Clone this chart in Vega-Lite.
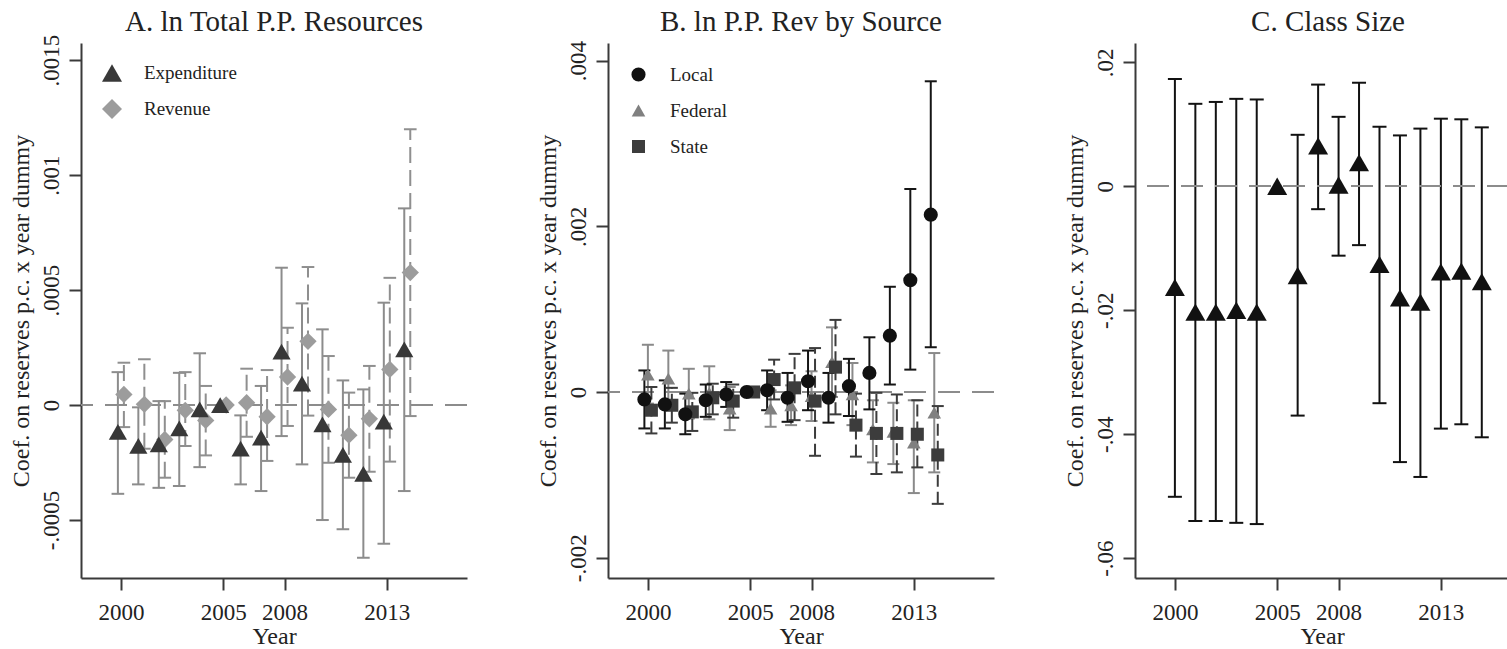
{
  "$schema": "https://vega.github.io/schema/vega-lite/v6.json",
  "background": "white",
  "autosize": {"type": "pad"},
  "padding": {"left": 9, "top": 7, "right": 0, "bottom": 0},
  "bounds": "flush",
  "spacing": 141,
  "resolve": {
    "scale": {"color": "independent", "shape": "independent", "size": "independent", "x": "independent", "y": "independent"},
    "legend": {"color": "independent", "shape": "independent", "size": "independent"}
  },
  "datasets": {
    "a": [
      {"year": 2000, "s": "Expenditure", "b": -0.000117, "lo": -0.000386, "hi": 0.000143},
      {"year": 2001, "s": "Expenditure", "b": -0.000178, "lo": -0.000345, "hi": -0.00001},
      {"year": 2002, "s": "Expenditure", "b": -0.000171, "lo": -0.00036, "hi": 0.000017},
      {"year": 2003, "s": "Expenditure", "b": -0.000101, "lo": -0.000352, "hi": 0.00014},
      {"year": 2004, "s": "Expenditure", "b": -0.000019, "lo": -0.00027, "hi": 0.000225},
      {"year": 2005, "s": "Expenditure", "b": 0, "lo": null, "hi": null},
      {"year": 2006, "s": "Expenditure", "b": -0.00019, "lo": -0.000345, "hi": -0.000045},
      {"year": 2007, "s": "Expenditure", "b": -0.000142, "lo": -0.000374, "hi": 0.000083},
      {"year": 2008, "s": "Expenditure", "b": 0.000232, "lo": -0.000135, "hi": 0.000597},
      {"year": 2009, "s": "Expenditure", "b": 0.000093, "lo": -0.000258, "hi": 0.000442},
      {"year": 2010, "s": "Expenditure", "b": -0.000084, "lo": -0.0005, "hi": 0.000329},
      {"year": 2011, "s": "Expenditure", "b": -0.000217, "lo": -0.00054, "hi": 0.000107},
      {"year": 2012, "s": "Expenditure", "b": -0.000299, "lo": -0.000664, "hi": 0.000068},
      {"year": 2013, "s": "Expenditure", "b": -0.000072, "lo": -0.000603, "hi": 0.000445},
      {"year": 2014, "s": "Expenditure", "b": 0.000242, "lo": -0.000374, "hi": 0.000855},
      {"year": 2000, "s": "Revenue", "b": 0.000046, "lo": -0.000096, "hi": 0.000184},
      {"year": 2001, "s": "Revenue", "b": 0.000003, "lo": -0.00019, "hi": 0.000199},
      {"year": 2002, "s": "Revenue", "b": -0.00015, "lo": -0.000316, "hi": 0.000017},
      {"year": 2003, "s": "Revenue", "b": -0.000023, "lo": -0.000178, "hi": 0.000143},
      {"year": 2004, "s": "Revenue", "b": -0.000067, "lo": -0.000219, "hi": 0.000083},
      {"year": 2005, "s": "Revenue", "b": 0, "lo": null, "hi": null},
      {"year": 2006, "s": "Revenue", "b": 0.00001, "lo": -0.000138, "hi": 0.000158},
      {"year": 2007, "s": "Revenue", "b": -0.000051, "lo": -0.000243, "hi": 0.000152},
      {"year": 2008, "s": "Revenue", "b": 0.000122, "lo": -0.000091, "hi": 0.000336},
      {"year": 2009, "s": "Revenue", "b": 0.000277, "lo": -0.000046, "hi": 0.0006},
      {"year": 2010, "s": "Revenue", "b": -0.000019, "lo": -0.000251, "hi": 0.000213},
      {"year": 2011, "s": "Revenue", "b": -0.000131, "lo": -0.000316, "hi": 0.000054},
      {"year": 2012, "s": "Revenue", "b": -0.00006, "lo": -0.00029, "hi": 0.00017},
      {"year": 2013, "s": "Revenue", "b": 0.000155, "lo": -0.000246, "hi": 0.000553},
      {"year": 2014, "s": "Revenue", "b": 0.000576, "lo": -0.000048, "hi": 0.001199}
    ],
    "b": [
      {"year": 2000, "s": "Local", "b": -0.00009, "lo": -0.00044, "hi": 0.00026},
      {"year": 2001, "s": "Local", "b": -0.00015, "lo": -0.00044, "hi": 0.00014},
      {"year": 2002, "s": "Local", "b": -0.00027, "lo": -0.00051, "hi": -0.00002},
      {"year": 2003, "s": "Local", "b": -0.0001, "lo": -0.0003, "hi": 0.00009},
      {"year": 2004, "s": "Local", "b": -0.00003, "lo": -0.00018, "hi": 0.00012},
      {"year": 2005, "s": "Local", "b": 0, "lo": null, "hi": null},
      {"year": 2006, "s": "Local", "b": 0.00002, "lo": -0.00022, "hi": 0.00026},
      {"year": 2007, "s": "Local", "b": -0.00007, "lo": -0.00036, "hi": 0.00023},
      {"year": 2008, "s": "Local", "b": 0.00013, "lo": -0.00022, "hi": 0.0005},
      {"year": 2009, "s": "Local", "b": -0.00007, "lo": -0.00037, "hi": 0.00023},
      {"year": 2010, "s": "Local", "b": 0.00007, "lo": -0.00029, "hi": 0.0004},
      {"year": 2011, "s": "Local", "b": 0.00023, "lo": -0.00021, "hi": 0.00066},
      {"year": 2012, "s": "Local", "b": 0.00068, "lo": 0.00009, "hi": 0.00127},
      {"year": 2013, "s": "Local", "b": 0.00135, "lo": 0.00027, "hi": 0.00245},
      {"year": 2014, "s": "Local", "b": 0.00214, "lo": 0.00054, "hi": 0.00375},
      {"year": 2000, "s": "Federal", "b": 0.00021, "lo": -0.00014, "hi": 0.00057},
      {"year": 2001, "s": "Federal", "b": 0.00016, "lo": -0.00017, "hi": 0.0005},
      {"year": 2002, "s": "Federal", "b": -0.00002, "lo": -0.00032, "hi": 0.00028},
      {"year": 2003, "s": "Federal", "b": -0.00001, "lo": -0.00033, "hi": 0.00031},
      {"year": 2004, "s": "Federal", "b": -0.0002, "lo": -0.00046, "hi": 0.00006},
      {"year": 2005, "s": "Federal", "b": 0, "lo": null, "hi": null},
      {"year": 2006, "s": "Federal", "b": -0.0002, "lo": -0.00042, "hi": 0.00002},
      {"year": 2007, "s": "Federal", "b": -0.00016, "lo": -0.0004, "hi": 0.00008},
      {"year": 2008, "s": "Federal", "b": -0.00005, "lo": -0.00035, "hi": 0.00025},
      {"year": 2009, "s": "Federal", "b": 0.00036, "lo": -0.00006, "hi": 0.00078},
      {"year": 2010, "s": "Federal", "b": -0.00003, "lo": -0.0004, "hi": 0.00035},
      {"year": 2011, "s": "Federal", "b": -0.00045, "lo": -0.00085, "hi": -0.0001},
      {"year": 2012, "s": "Federal", "b": -0.00048, "lo": -0.00087, "hi": -0.00013},
      {"year": 2013, "s": "Federal", "b": -0.00061, "lo": -0.00122, "hi": -0.0001},
      {"year": 2014, "s": "Federal", "b": -0.00025, "lo": -0.00097, "hi": 0.00047},
      {"year": 2000, "s": "State", "b": -0.00022, "lo": -0.0005, "hi": 0.00006},
      {"year": 2001, "s": "State", "b": -0.00016, "lo": -0.00037, "hi": 0.00005},
      {"year": 2002, "s": "State", "b": -0.00024, "lo": -0.00047, "hi": -0.00001},
      {"year": 2003, "s": "State", "b": -0.00007, "lo": -0.00027, "hi": 0.0001},
      {"year": 2004, "s": "State", "b": -0.00011, "lo": -0.00031, "hi": 0.00009},
      {"year": 2005, "s": "State", "b": 0, "lo": null, "hi": null},
      {"year": 2006, "s": "State", "b": 0.00015, "lo": -0.00009, "hi": 0.00039},
      {"year": 2007, "s": "State", "b": 0.00005, "lo": -0.00034, "hi": 0.00046},
      {"year": 2008, "s": "State", "b": -0.00011, "lo": -0.00077, "hi": 0.00053},
      {"year": 2009, "s": "State", "b": 0.0003, "lo": -0.00027, "hi": 0.00087},
      {"year": 2010, "s": "State", "b": -0.0004, "lo": -0.00078, "hi": -0.00002},
      {"year": 2011, "s": "State", "b": -0.0005, "lo": -0.00099, "hi": -0.00001},
      {"year": 2012, "s": "State", "b": -0.0005, "lo": -0.00097, "hi": -0.00003},
      {"year": 2013, "s": "State", "b": -0.00051, "lo": -0.00091, "hi": -0.0001},
      {"year": 2014, "s": "State", "b": -0.00076, "lo": -0.00135, "hi": -0.00017}
    ],
    "c": [
      {"year": 2000, "b": -0.0163, "lo": -0.0501, "hi": 0.0173},
      {"year": 2001, "b": -0.0203, "lo": -0.054, "hi": 0.0133},
      {"year": 2002, "b": -0.0203, "lo": -0.054, "hi": 0.0136},
      {"year": 2003, "b": -0.02, "lo": -0.0543, "hi": 0.0141},
      {"year": 2004, "b": -0.0203, "lo": -0.0545, "hi": 0.014},
      {"year": 2005, "b": 0, "lo": null, "hi": null},
      {"year": 2006, "b": -0.0144, "lo": -0.037, "hi": 0.0083},
      {"year": 2007, "b": 0.0065, "lo": -0.0037, "hi": 0.0164},
      {"year": 2008, "b": 0.0002, "lo": -0.0112, "hi": 0.0112},
      {"year": 2009, "b": 0.0038, "lo": -0.0095, "hi": 0.0167},
      {"year": 2010, "b": -0.0126, "lo": -0.035, "hi": 0.0096},
      {"year": 2011, "b": -0.018, "lo": -0.0445, "hi": 0.0082},
      {"year": 2012, "b": -0.0187, "lo": -0.0469, "hi": 0.0093},
      {"year": 2013, "b": -0.0138, "lo": -0.0391, "hi": 0.0109},
      {"year": 2014, "b": -0.0137, "lo": -0.0384, "hi": 0.0108},
      {"year": 2015, "b": -0.0154, "lo": -0.0405, "hi": 0.0095}
    ]
  },
  "hconcat": [
    {
      "width": 386,
      "height": 535,
      "title": {"text": "A. ln Total P.P. Resources", "dy": 9},
      "data": {"name": "a"},
      "layer": [
        {
          "transform": [{"filter": "datum.s == 'Expenditure' && datum.lo != null"}],
          "mark": {"type": "rule", "color": "#8c8c8c", "strokeWidth": 2, "xOffset": -3},
          "encoding": {
            "x": {"field": "year", "type": "quantitative", "title": "Year", "scale": {"domain": [1998.05, 2016.92], "nice": false, "zero": false}, "axis": {"values": [2000, 2005, 2008, 2013], "format": "d"}},
            "y": {"field": "lo", "type": "quantitative", "title": "Coef. on reserves p.c. x year dummy", "scale": {"domain": [-0.000752, 0.001574], "nice": false, "zero": false}, "axis": {"values": [-0.0005, 0, 0.0005, 0.001, 0.0015]}},
            "y2": {"field": "hi"}
          }
        },
        {
          "mark": {"type": "rule", "color": "#8c8c8c", "strokeWidth": 1.5, "strokeDash": [22, 12]},
          "encoding": {"y": {"datum": 0, "type": "quantitative", "title": "Coef. on reserves p.c. x year dummy", "scale": {"domain": [-0.000752, 0.001574], "nice": false, "zero": false}, "axis": {"values": [-0.0005, 0, 0.0005, 0.001, 0.0015]}}}
        },
        {
          "transform": [{"filter": "datum.s == 'Expenditure' && datum.lo != null"}, {"fold": ["lo", "hi"], "as": ["end", "v"]}],
          "mark": {"type": "point", "shape": "stroke", "color": "#8c8c8c", "strokeWidth": 2, "size": 160, "opacity": 1, "xOffset": -3},
          "encoding": {
            "x": {"field": "year", "type": "quantitative", "title": "Year", "scale": {"domain": [1998.05, 2016.92], "nice": false, "zero": false}, "axis": {"values": [2000, 2005, 2008, 2013], "format": "d"}},
            "y": {"field": "v", "type": "quantitative", "title": "Coef. on reserves p.c. x year dummy", "scale": {"domain": [-0.000752, 0.001574], "nice": false, "zero": false}, "axis": {"values": [-0.0005, 0, 0.0005, 0.001, 0.0015]}}
          }
        },
        {
          "transform": [{"filter": "datum.s == 'Revenue' && datum.lo != null"}],
          "mark": {"type": "rule", "color": "#8f8f8f", "strokeWidth": 2, "strokeDash": [16, 7], "xOffset": 3},
          "encoding": {
            "x": {"field": "year", "type": "quantitative", "title": "Year", "scale": {"domain": [1998.05, 2016.92], "nice": false, "zero": false}, "axis": {"values": [2000, 2005, 2008, 2013], "format": "d"}},
            "y": {"field": "lo", "type": "quantitative", "title": "Coef. on reserves p.c. x year dummy", "scale": {"domain": [-0.000752, 0.001574], "nice": false, "zero": false}, "axis": {"values": [-0.0005, 0, 0.0005, 0.001, 0.0015]}},
            "y2": {"field": "hi"}
          }
        },
        {
          "transform": [{"filter": "datum.s == 'Revenue' && datum.lo != null"}, {"fold": ["lo", "hi"], "as": ["end", "v"]}],
          "mark": {"type": "point", "shape": "stroke", "color": "#8f8f8f", "strokeWidth": 2, "size": 160, "opacity": 1, "xOffset": 3},
          "encoding": {
            "x": {"field": "year", "type": "quantitative", "title": "Year", "scale": {"domain": [1998.05, 2016.92], "nice": false, "zero": false}, "axis": {"values": [2000, 2005, 2008, 2013], "format": "d"}},
            "y": {"field": "v", "type": "quantitative", "title": "Coef. on reserves p.c. x year dummy", "scale": {"domain": [-0.000752, 0.001574], "nice": false, "zero": false}, "axis": {"values": [-0.0005, 0, 0.0005, 0.001, 0.0015]}}
          }
        },
        {
          "transform": [{"filter": "datum.s == 'Revenue'"}],
          "mark": {"type": "point", "filled": true, "opacity": 1, "size": 300, "xOffset": 3},
          "encoding": {
            "x": {"field": "year", "type": "quantitative", "title": "Year", "scale": {"domain": [1998.05, 2016.92], "nice": false, "zero": false}, "axis": {"values": [2000, 2005, 2008, 2013], "format": "d"}},
            "y": {"field": "b", "type": "quantitative", "title": "Coef. on reserves p.c. x year dummy", "scale": {"domain": [-0.000752, 0.001574], "nice": false, "zero": false}, "axis": {"values": [-0.0005, 0, 0.0005, 0.001, 0.0015]}},
            "shape": {"field": "s", "type": "nominal", "scale": {"domain": ["Expenditure", "Revenue"], "range": ["triangle-up", "diamond"]}, "legend": {"orient": "none", "legendX": 21, "legendY": 20, "title": null, "symbolSize": 400}},
            "color": {"field": "s", "type": "nominal", "scale": {"domain": ["Expenditure", "Revenue"], "range": ["#383838", "#9c9c9c"]}, "legend": {"orient": "none", "legendX": 21, "legendY": 20, "title": null, "symbolSize": 400}}
          }
        },
        {
          "transform": [{"filter": "datum.s == 'Expenditure'"}],
          "mark": {"type": "point", "filled": true, "opacity": 1, "size": 330, "xOffset": -3},
          "encoding": {
            "x": {"field": "year", "type": "quantitative", "title": "Year", "scale": {"domain": [1998.05, 2016.92], "nice": false, "zero": false}, "axis": {"values": [2000, 2005, 2008, 2013], "format": "d"}},
            "y": {"field": "b", "type": "quantitative", "title": "Coef. on reserves p.c. x year dummy", "scale": {"domain": [-0.000752, 0.001574], "nice": false, "zero": false}, "axis": {"values": [-0.0005, 0, 0.0005, 0.001, 0.0015]}},
            "shape": {"field": "s", "type": "nominal", "scale": {"domain": ["Expenditure", "Revenue"], "range": ["triangle-up", "diamond"]}, "legend": {"orient": "none", "legendX": 21, "legendY": 20, "title": null, "symbolSize": 400}},
            "color": {"field": "s", "type": "nominal", "scale": {"domain": ["Expenditure", "Revenue"], "range": ["#383838", "#9c9c9c"]}, "legend": {"orient": "none", "legendX": 21, "legendY": 20, "title": null, "symbolSize": 400}}
          }
        }
      ]
    },
    {
      "width": 386,
      "height": 535,
      "title": {"text": "B. ln P.P. Rev by Source", "dy": 2.5},
      "data": {"name": "b"},
      "layer": [
        {
          "transform": [{"filter": "datum.s == 'Federal' && datum.lo != null"}],
          "mark": {"type": "rule", "color": "#8a8a8a", "strokeWidth": 2},
          "encoding": {
            "x": {"field": "year", "type": "quantitative", "title": "Year", "scale": {"domain": [1998.05, 2016.92], "nice": false, "zero": false}, "axis": {"values": [2000, 2005, 2008, 2013], "format": "d"}},
            "y": {"field": "lo", "type": "quantitative", "title": "Coef. on reserves p.c. x year dummy", "scale": {"domain": [-0.002245, 0.004212], "nice": false, "zero": false}, "axis": {"values": [-0.002, 0, 0.002, 0.004]}},
            "y2": {"field": "hi"}
          }
        },
        {
          "mark": {"type": "rule", "color": "#8c8c8c", "strokeWidth": 1.5, "strokeDash": [22, 12]},
          "encoding": {"y": {"datum": 0, "type": "quantitative", "title": "Coef. on reserves p.c. x year dummy", "scale": {"domain": [-0.002245, 0.004212], "nice": false, "zero": false}, "axis": {"values": [-0.002, 0, 0.002, 0.004]}}}
        },
        {
          "transform": [{"filter": "datum.s == 'Federal' && datum.lo != null"}, {"fold": ["lo", "hi"], "as": ["end", "v"]}],
          "mark": {"type": "point", "shape": "stroke", "color": "#8a8a8a", "strokeWidth": 2, "size": 144, "opacity": 1},
          "encoding": {
            "x": {"field": "year", "type": "quantitative", "title": "Year", "scale": {"domain": [1998.05, 2016.92], "nice": false, "zero": false}, "axis": {"values": [2000, 2005, 2008, 2013], "format": "d"}},
            "y": {"field": "v", "type": "quantitative", "title": "Coef. on reserves p.c. x year dummy", "scale": {"domain": [-0.002245, 0.004212], "nice": false, "zero": false}, "axis": {"values": [-0.002, 0, 0.002, 0.004]}}
          }
        },
        {
          "transform": [{"filter": "datum.s == 'State' && datum.lo != null"}],
          "mark": {"type": "rule", "color": "#3c3c3c", "strokeWidth": 2, "strokeDash": [12, 5], "xOffset": 3.5},
          "encoding": {
            "x": {"field": "year", "type": "quantitative", "title": "Year", "scale": {"domain": [1998.05, 2016.92], "nice": false, "zero": false}, "axis": {"values": [2000, 2005, 2008, 2013], "format": "d"}},
            "y": {"field": "lo", "type": "quantitative", "title": "Coef. on reserves p.c. x year dummy", "scale": {"domain": [-0.002245, 0.004212], "nice": false, "zero": false}, "axis": {"values": [-0.002, 0, 0.002, 0.004]}},
            "y2": {"field": "hi"}
          }
        },
        {
          "transform": [{"filter": "datum.s == 'State' && datum.lo != null"}, {"fold": ["lo", "hi"], "as": ["end", "v"]}],
          "mark": {"type": "point", "shape": "stroke", "color": "#3c3c3c", "strokeWidth": 2, "size": 144, "opacity": 1, "xOffset": 3.5},
          "encoding": {
            "x": {"field": "year", "type": "quantitative", "title": "Year", "scale": {"domain": [1998.05, 2016.92], "nice": false, "zero": false}, "axis": {"values": [2000, 2005, 2008, 2013], "format": "d"}},
            "y": {"field": "v", "type": "quantitative", "title": "Coef. on reserves p.c. x year dummy", "scale": {"domain": [-0.002245, 0.004212], "nice": false, "zero": false}, "axis": {"values": [-0.002, 0, 0.002, 0.004]}}
          }
        },
        {
          "transform": [{"filter": "datum.s == 'Local' && datum.lo != null"}],
          "mark": {"type": "rule", "color": "#151515", "strokeWidth": 2, "xOffset": -3.5},
          "encoding": {
            "x": {"field": "year", "type": "quantitative", "title": "Year", "scale": {"domain": [1998.05, 2016.92], "nice": false, "zero": false}, "axis": {"values": [2000, 2005, 2008, 2013], "format": "d"}},
            "y": {"field": "lo", "type": "quantitative", "title": "Coef. on reserves p.c. x year dummy", "scale": {"domain": [-0.002245, 0.004212], "nice": false, "zero": false}, "axis": {"values": [-0.002, 0, 0.002, 0.004]}},
            "y2": {"field": "hi"}
          }
        },
        {
          "transform": [{"filter": "datum.s == 'Local' && datum.lo != null"}, {"fold": ["lo", "hi"], "as": ["end", "v"]}],
          "mark": {"type": "point", "shape": "stroke", "color": "#151515", "strokeWidth": 2, "size": 144, "opacity": 1, "xOffset": -3.5},
          "encoding": {
            "x": {"field": "year", "type": "quantitative", "title": "Year", "scale": {"domain": [1998.05, 2016.92], "nice": false, "zero": false}, "axis": {"values": [2000, 2005, 2008, 2013], "format": "d"}},
            "y": {"field": "v", "type": "quantitative", "title": "Coef. on reserves p.c. x year dummy", "scale": {"domain": [-0.002245, 0.004212], "nice": false, "zero": false}, "axis": {"values": [-0.002, 0, 0.002, 0.004]}}
          }
        },
        {
          "transform": [{"filter": "datum.s == 'Federal'"}],
          "mark": {"type": "point", "filled": true, "opacity": 1},
          "encoding": {
            "x": {"field": "year", "type": "quantitative", "title": "Year", "scale": {"domain": [1998.05, 2016.92], "nice": false, "zero": false}, "axis": {"values": [2000, 2005, 2008, 2013], "format": "d"}},
            "y": {"field": "b", "type": "quantitative", "title": "Coef. on reserves p.c. x year dummy", "scale": {"domain": [-0.002245, 0.004212], "nice": false, "zero": false}, "axis": {"values": [-0.002, 0, 0.002, 0.004]}},
            "shape": {"field": "s", "type": "nominal", "scale": {"domain": ["Local", "Federal", "State"], "range": ["circle", "triangle-up", "square"]}, "legend": {"orient": "none", "legendX": 21, "legendY": 22, "title": null}},
            "color": {"field": "s", "type": "nominal", "scale": {"domain": ["Local", "Federal", "State"], "range": ["#111111", "#808080", "#3c3c3c"]}, "legend": {"orient": "none", "legendX": 21, "legendY": 22, "title": null}},
            "size": {"field": "s", "type": "nominal", "scale": {"domain": ["Local", "Federal", "State"], "range": [200, 170, 90]}, "legend": {"orient": "none", "legendX": 21, "legendY": 22, "title": null}}
          }
        },
        {
          "transform": [{"filter": "datum.s == 'State'"}],
          "mark": {"type": "point", "filled": true, "opacity": 1, "xOffset": 3.5},
          "encoding": {
            "x": {"field": "year", "type": "quantitative", "title": "Year", "scale": {"domain": [1998.05, 2016.92], "nice": false, "zero": false}, "axis": {"values": [2000, 2005, 2008, 2013], "format": "d"}},
            "y": {"field": "b", "type": "quantitative", "title": "Coef. on reserves p.c. x year dummy", "scale": {"domain": [-0.002245, 0.004212], "nice": false, "zero": false}, "axis": {"values": [-0.002, 0, 0.002, 0.004]}},
            "shape": {"field": "s", "type": "nominal", "scale": {"domain": ["Local", "Federal", "State"], "range": ["circle", "triangle-up", "square"]}, "legend": {"orient": "none", "legendX": 21, "legendY": 22, "title": null}},
            "color": {"field": "s", "type": "nominal", "scale": {"domain": ["Local", "Federal", "State"], "range": ["#111111", "#808080", "#3c3c3c"]}, "legend": {"orient": "none", "legendX": 21, "legendY": 22, "title": null}},
            "size": {"field": "s", "type": "nominal", "scale": {"domain": ["Local", "Federal", "State"], "range": [200, 170, 90]}, "legend": {"orient": "none", "legendX": 21, "legendY": 22, "title": null}}
          }
        },
        {
          "transform": [{"filter": "datum.s == 'Local'"}],
          "mark": {"type": "point", "filled": true, "opacity": 1, "xOffset": -3.5},
          "encoding": {
            "x": {"field": "year", "type": "quantitative", "title": "Year", "scale": {"domain": [1998.05, 2016.92], "nice": false, "zero": false}, "axis": {"values": [2000, 2005, 2008, 2013], "format": "d"}},
            "y": {"field": "b", "type": "quantitative", "title": "Coef. on reserves p.c. x year dummy", "scale": {"domain": [-0.002245, 0.004212], "nice": false, "zero": false}, "axis": {"values": [-0.002, 0, 0.002, 0.004]}},
            "shape": {"field": "s", "type": "nominal", "scale": {"domain": ["Local", "Federal", "State"], "range": ["circle", "triangle-up", "square"]}, "legend": {"orient": "none", "legendX": 21, "legendY": 22, "title": null}},
            "color": {"field": "s", "type": "nominal", "scale": {"domain": ["Local", "Federal", "State"], "range": ["#111111", "#808080", "#3c3c3c"]}, "legend": {"orient": "none", "legendX": 21, "legendY": 22, "title": null}},
            "size": {"field": "s", "type": "nominal", "scale": {"domain": ["Local", "Federal", "State"], "range": [200, 170, 90]}, "legend": {"orient": "none", "legendX": 21, "legendY": 22, "title": null}}
          }
        }
      ]
    },
    {
      "width": 374,
      "height": 535,
      "title": {"text": "C. Class Size", "dx": 6},
      "data": {"name": "c"},
      "layer": [
        {
          "transform": [{"filter": "datum.lo != null"}],
          "mark": {"type": "rule", "color": "#111111", "strokeWidth": 2},
          "encoding": {
            "x": {"field": "year", "type": "quantitative", "title": "Year", "scale": {"domain": [1998.05, 2016.33], "nice": false, "zero": false}, "axis": {"values": [2000, 2005, 2008, 2013], "format": "d"}},
            "y": {"field": "lo", "type": "quantitative", "title": "Coef. on reserves p.c. x year dummy", "scale": {"domain": [-0.0632, 0.02311], "nice": false, "zero": false}, "axis": {"values": [-0.06, -0.04, -0.02, 0, 0.02]}},
            "y2": {"field": "hi"}
          }
        },
        {
          "mark": {"type": "rule", "color": "#8c8c8c", "strokeWidth": 1.5, "strokeDash": [22, 12]},
          "encoding": {"y": {"datum": 0, "type": "quantitative", "title": "Coef. on reserves p.c. x year dummy", "scale": {"domain": [-0.0632, 0.02311], "nice": false, "zero": false}, "axis": {"values": [-0.06, -0.04, -0.02, 0, 0.02]}}}
        },
        {
          "transform": [{"filter": "datum.lo != null"}, {"fold": ["lo", "hi"], "as": ["end", "v"]}],
          "mark": {"type": "point", "shape": "stroke", "color": "#111111", "strokeWidth": 2, "size": 196, "opacity": 1},
          "encoding": {
            "x": {"field": "year", "type": "quantitative", "title": "Year", "scale": {"domain": [1998.05, 2016.33], "nice": false, "zero": false}, "axis": {"values": [2000, 2005, 2008, 2013], "format": "d"}},
            "y": {"field": "v", "type": "quantitative", "title": "Coef. on reserves p.c. x year dummy", "scale": {"domain": [-0.0632, 0.02311], "nice": false, "zero": false}, "axis": {"values": [-0.06, -0.04, -0.02, 0, 0.02]}}
          }
        },
        {
          "mark": {"type": "point", "shape": "triangle-up", "filled": true, "color": "#111111", "opacity": 1, "size": 400},
          "encoding": {
            "x": {"field": "year", "type": "quantitative", "title": "Year", "scale": {"domain": [1998.05, 2016.33], "nice": false, "zero": false}, "axis": {"values": [2000, 2005, 2008, 2013], "format": "d"}},
            "y": {"field": "b", "type": "quantitative", "title": "Coef. on reserves p.c. x year dummy", "scale": {"domain": [-0.0632, 0.02311], "nice": false, "zero": false}, "axis": {"values": [-0.06, -0.04, -0.02, 0, 0.02]}}
          }
        }
      ]
    }
  ],
  "config": {
    "view": {"stroke": null},
    "font": "Liberation Serif",
    "title": {"font": "Liberation Serif", "fontSize": 29, "fontWeight": "normal", "color": "#222222", "offset": 6, "baseline": "alphabetic", "frame": "group", "anchor": "middle"},
    "axis": {
      "grid": false,
      "domainColor": "#3a3a3a",
      "domainWidth": 2,
      "tickColor": "#3a3a3a",
      "tickWidth": 2,
      "tickSize": 12,
      "labelFont": "Liberation Serif",
      "labelFontSize": 23,
      "labelColor": "#222222",
      "titleFont": "Liberation Serif",
      "titleFontSize": 24,
      "titleFontWeight": "normal",
      "titleColor": "#222222"
    },
    "axisX": {"labelPadding": 11, "titlePadding": 0, "labelFlush": false},
    "axisY": {
      "labelAngle": 270,
      "labelAlign": "center",
      "labelBaseline": "alphabetic",
      "labelPadding": 11,
      "titlePadding": 7,
      "labelFlush": false,
      "labelExpr": "datum.value == 0 ? '0' : (datum.value < 0 ? '-' : '') + replace(format(abs(datum.value), '.4~f'), '0.', '.')"
    },
    "legend": {
      "padding": 0,
      "labelFont": "Liberation Serif",
      "labelFontSize": 19,
      "labelColor": "#222222",
      "labelOffset": 22,
      "rowPadding": 16,
      "symbolStrokeWidth": 0
    }
  }
}
